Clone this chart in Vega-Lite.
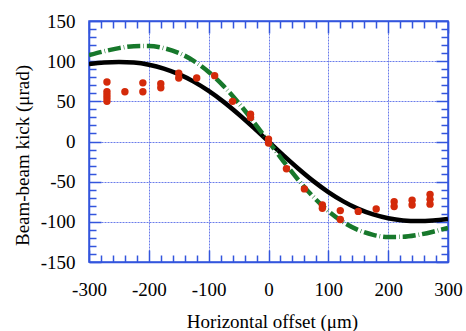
{
  "$schema": "https://vega.github.io/schema/vega-lite/v6.json",
  "width": 359,
  "height": 241,
  "autosize": {"type": "none"},
  "padding": {"left": 89, "top": 21, "right": 18, "bottom": 69},
  "background": "white",
  "config": {"view": {"stroke": "#3355dd", "strokeWidth": 1.5}, "font": "Liberation Serif"},
  "datasets": {
    "black": [
      {"x": -300, "y": 96.5}, {"x": -275, "y": 98.3}, {"x": -250, "y": 99.0}, {"x": -225, "y": 98.2},
      {"x": -200, "y": 95.5}, {"x": -175, "y": 90.8}, {"x": -150, "y": 83.8}, {"x": -125, "y": 74.5},
      {"x": -100, "y": 62.9}, {"x": -75, "y": 49.3}, {"x": -50, "y": 33.9}, {"x": -25, "y": 17.3},
      {"x": 0, "y": 0},
      {"x": 25, "y": -17.3}, {"x": 50, "y": -33.9}, {"x": 75, "y": -49.3}, {"x": 100, "y": -62.9},
      {"x": 125, "y": -74.5}, {"x": 150, "y": -83.8}, {"x": 175, "y": -90.8}, {"x": 200, "y": -95.5},
      {"x": 225, "y": -98.2}, {"x": 250, "y": -99.0}, {"x": 275, "y": -98.3}, {"x": 300, "y": -96.5}
    ],
    "green": [
      {"x": -300, "y": 107.5}, {"x": -275, "y": 112.3}, {"x": -250, "y": 116.2}, {"x": -225, "y": 118.6},
      {"x": -200, "y": 118.8}, {"x": -175, "y": 116.2}, {"x": -150, "y": 110.2}, {"x": -125, "y": 100.4},
      {"x": -100, "y": 86.6}, {"x": -75, "y": 69.0}, {"x": -50, "y": 48.0}, {"x": -25, "y": 24.6},
      {"x": 0, "y": 0},
      {"x": 25, "y": -24.6}, {"x": 50, "y": -48.0}, {"x": 75, "y": -69.0}, {"x": 100, "y": -86.6},
      {"x": 125, "y": -100.4}, {"x": 150, "y": -110.2}, {"x": 175, "y": -116.2}, {"x": 200, "y": -118.8},
      {"x": 225, "y": -118.6}, {"x": 250, "y": -116.2}, {"x": 275, "y": -112.3}, {"x": 300, "y": -107.5}
    ],
    "meas": [
      {"x": -270, "y": 74}, {"x": -270, "y": 62}, {"x": -270, "y": 58}, {"x": -270, "y": 54}, {"x": -270, "y": 50},
      {"x": -240, "y": 62},
      {"x": -210, "y": 73}, {"x": -210, "y": 62},
      {"x": -180, "y": 72}, {"x": -180, "y": 67},
      {"x": -150, "y": 85}, {"x": -150, "y": 79},
      {"x": -120, "y": 79},
      {"x": -90, "y": 82},
      {"x": -60, "y": 50},
      {"x": -30, "y": 34}, {"x": -30, "y": 30},
      {"x": 0, "y": 3}, {"x": 0, "y": -2},
      {"x": 30, "y": -34},
      {"x": 60, "y": -59},
      {"x": 90, "y": -79}, {"x": 90, "y": -83},
      {"x": 120, "y": -86}, {"x": 120, "y": -97},
      {"x": 150, "y": -87},
      {"x": 180, "y": -84},
      {"x": 210, "y": -75}, {"x": 210, "y": -81},
      {"x": 240, "y": -73}, {"x": 240, "y": -79},
      {"x": 270, "y": -66}, {"x": 270, "y": -72}, {"x": 270, "y": -78}
    ]
  },
  "layer": [
    {
      "data": {"name": "black"},
      "mark": {"type": "line", "color": "black", "strokeWidth": 4.5, "interpolate": "monotone", "clip": true},
      "encoding": {
        "x": {
          "field": "x", "type": "quantitative",
          "scale": {"domain": [-300, 300], "nice": false, "zero": false},
          "axis": {
            "orient": "bottom",
            "values": [-300,-280,-260,-240,-220,-200,-180,-160,-140,-120,-100,-80,-60,-40,-20,0,20,40,60,80,100,120,140,160,180,200,220,240,260,280,300],
            "labelExpr": "datum.value % 100 === 0 ? '' + datum.value : ''",
            "labelFont": "Liberation Serif", "labelFontSize": 19, "labelColor": "black",
            "labelPadding": 30, "labelFlush": false, "labelOverlap": false, "labelBound": false,
            "tickColor": "#3355dd", "tickWidth": 1.5,
            "tickSize": {"condition": {"test": "datum.value % 100 === 0", "value": -12}, "value": -7},
            "grid": true, "gridColor": "#6a7cea", "gridDash": [2, 1], "gridWidth": 1,
            "gridOpacity": {"condition": {"test": "datum.value % 100 === 0", "value": 1}, "value": 0},
            "domainColor": "#3355dd", "domainWidth": 1.5,
            "title": "Horizontal offset (μm)", "titleFont": "Liberation Serif", "titleFontSize": 19,
            "titleFontWeight": "normal", "titleColor": "black",
            "titleX": 183, "titleY": 65, "titleBaseline": "alphabetic"
          }
        },
        "y": {
          "field": "y", "type": "quantitative",
          "scale": {"domain": [-150, 150], "nice": false, "zero": false},
          "axis": {
            "orient": "left",
            "values": [-150,-140,-130,-120,-110,-100,-90,-80,-70,-60,-50,-40,-30,-20,-10,0,10,20,30,40,50,60,70,80,90,100,110,120,130,140,150],
            "labelExpr": "datum.value % 50 === 0 ? '' + datum.value : ''",
            "labelFont": "Liberation Serif", "labelFontSize": 19, "labelColor": "black",
            "labelPadding": 26, "labelFlush": false, "labelOverlap": false, "labelBound": false,
            "tickColor": "#3355dd", "tickWidth": 1.5,
            "tickSize": {"condition": {"test": "datum.value % 50 === 0", "value": -12}, "value": -7},
            "grid": true, "gridColor": "#6a7cea", "gridDash": [2, 1], "gridWidth": 1,
            "gridOpacity": {"condition": {"test": "datum.value % 50 === 0", "value": 1}, "value": 0},
            "domainColor": "#3355dd", "domainWidth": 1.5,
            "title": "Beam-beam kick (μrad)", "titleFont": "Liberation Serif", "titleFontSize": 19,
            "titleFontWeight": "normal", "titleColor": "black",
            "titleX": -61, "titleY": 134, "titleBaseline": "alphabetic", "titleAngle": 270
          }
        }
      }
    },
    {
      "data": {"name": "green"},
      "mark": {"type": "line", "color": "#17782b", "strokeWidth": 4.5, "strokeDash": [13, 3, 0.6, 3], "interpolate": "monotone", "clip": true},
      "encoding": {
        "x": {"field": "x", "type": "quantitative", "axis": null},
        "y": {"field": "y", "type": "quantitative", "axis": null}
      }
    },
    {
      "data": {"name": "meas"},
      "mark": {"type": "circle", "color": "#d42a0a", "size": 55, "opacity": 1},
      "encoding": {
        "x": {
          "field": "x", "type": "quantitative",
          "axis": {
            "orient": "top",
            "values": [-300,-280,-260,-240,-220,-200,-180,-160,-140,-120,-100,-80,-60,-40,-20,0,20,40,60,80,100,120,140,160,180,200,220,240,260,280,300],
            "labels": false, "grid": false, "title": null,
            "tickColor": "#3355dd", "tickWidth": 1.5,
            "tickSize": {"condition": {"test": "datum.value % 100 === 0", "value": -12}, "value": -7},
            "domainColor": "#3355dd", "domainWidth": 1.5
          }
        },
        "y": {
          "field": "y", "type": "quantitative",
          "axis": {
            "orient": "right",
            "values": [-150,-140,-130,-120,-110,-100,-90,-80,-70,-60,-50,-40,-30,-20,-10,0,10,20,30,40,50,60,70,80,90,100,110,120,130,140,150],
            "labels": false, "grid": false, "title": null,
            "tickColor": "#3355dd", "tickWidth": 1.5,
            "tickSize": {"condition": {"test": "datum.value % 50 === 0", "value": -12}, "value": -7},
            "domainColor": "#3355dd", "domainWidth": 1.5
          }
        }
      }
    }
  ],
  "resolve": {"axis": {"x": "independent", "y": "independent"}}
}
